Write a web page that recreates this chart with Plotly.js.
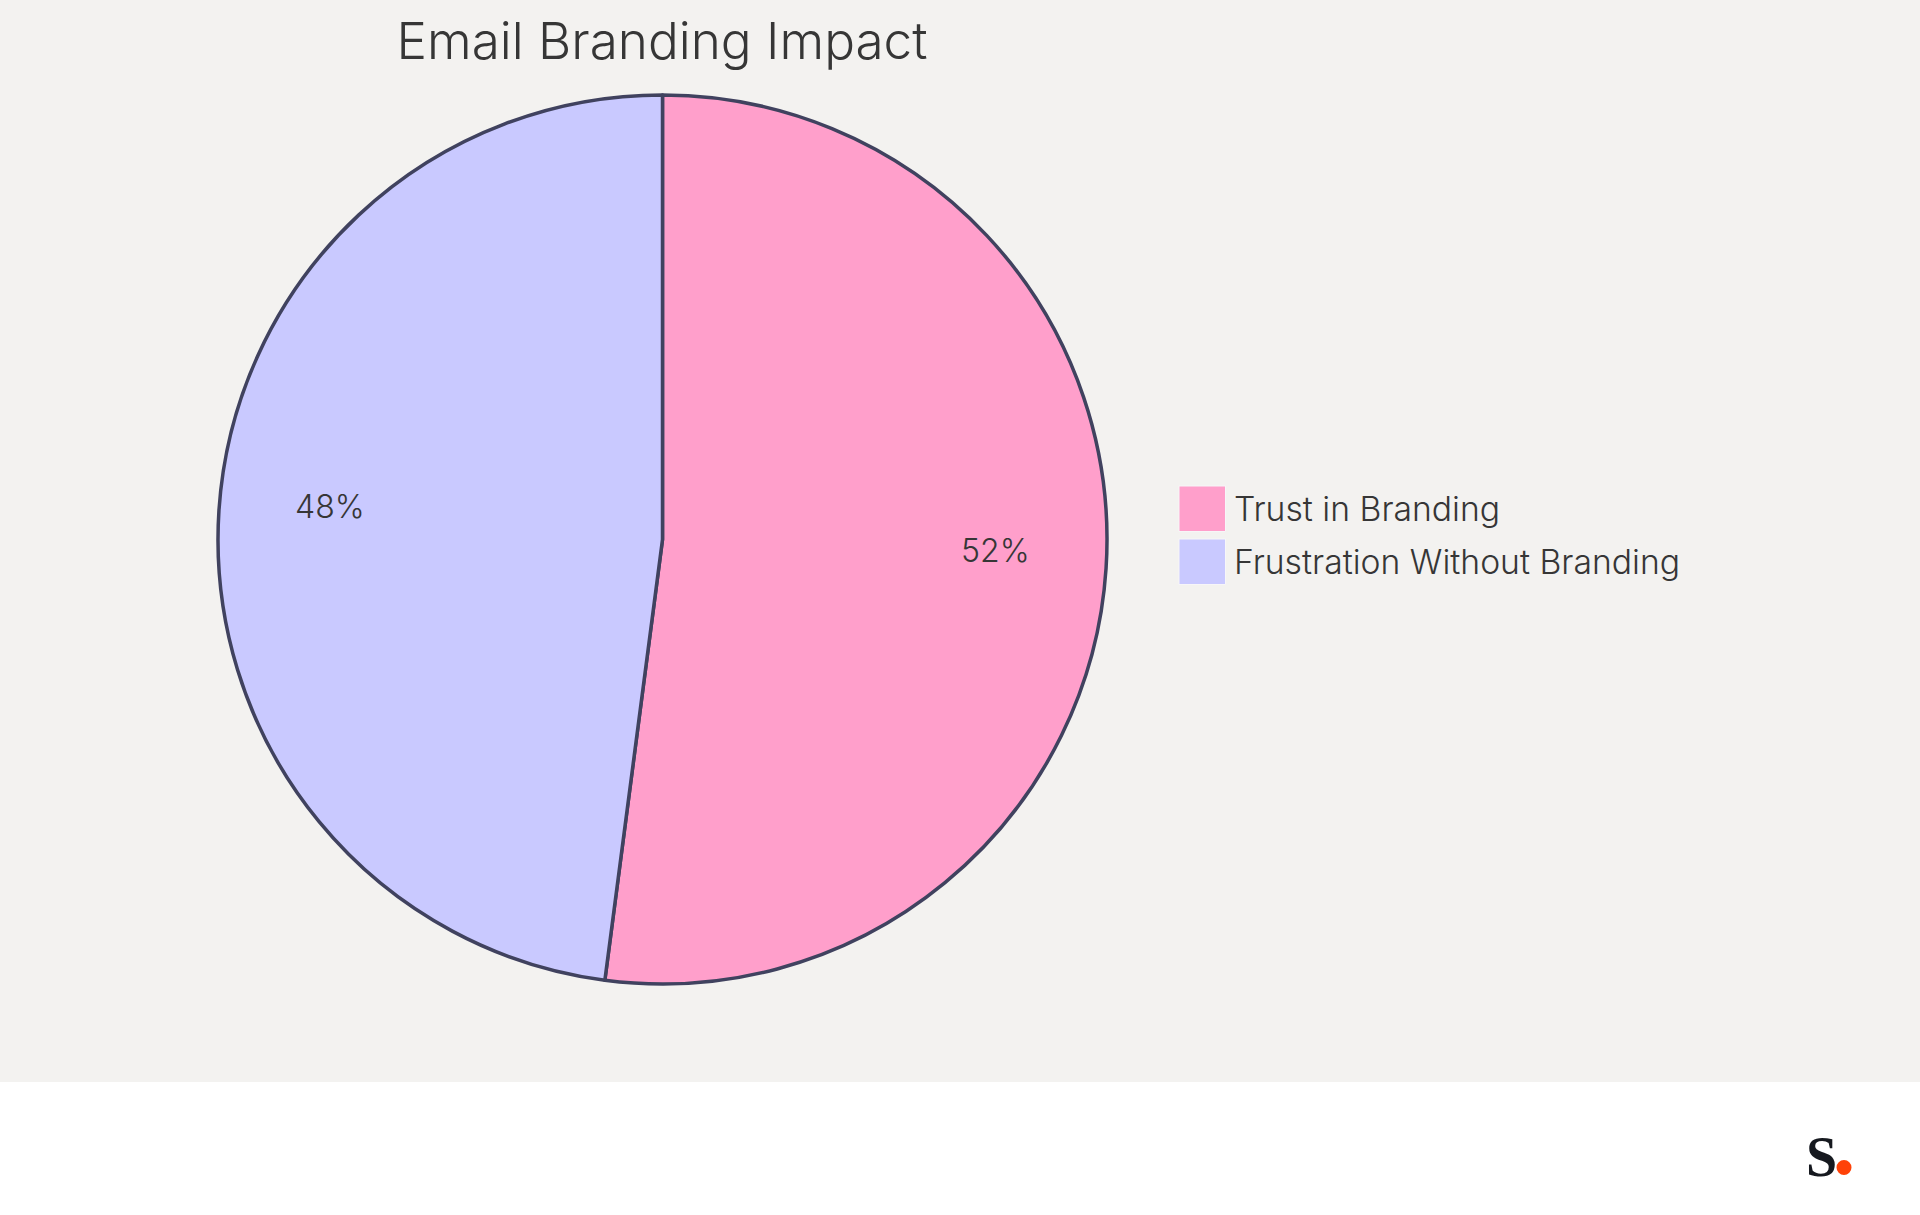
<!DOCTYPE html>
<html>
<head>
<meta charset="utf-8">
<script src="https://cdn.plot.ly/plotly-3.0.1.min.js"></script>
<style>
  html, body { margin: 0; padding: 0; background: #fff; }
</style>
</head>
<body>
<div id="chart" style="width:1920px;height:1215px"></div>
<script>
const categories = ["Trust in Branding", "Frustration Without Branding"];
const shares = [52.07, 47.93];
const sliceColors = ["#ff9fcb", "#c9c9ff"];

const W = 1920, H = 1215;
const fx = px => px / W;
const fy = py => 1 - py / H;
const FONT = "Inter, 'Noto Sans', sans-serif";
const INK = "#363636";

const cx = 662.5, cy = 539.5, r = 444.5;

const trace = {
    type: "pie",
    labels: categories,
    values: shares,
    sort: false,
    direction: "clockwise",
    rotation: 0,
    domain: { x: [fx(cx - r), fx(cx + r)], y: [fy(cy + r), fy(cy - r)] },
    marker: { colors: sliceColors, line: { color: "#40425f", width: 3.5 } },
    textinfo: "none",
    hoverinfo: "label+percent"
};

// legend swatches are bigger than plotly's own pie legend can draw
const rowTop = [486, 539];
const shapes = [
    { type: "rect", xref: "paper", yref: "paper", x0: 0, x1: 1, y0: 0, y1: fy(1082),
      fillcolor: "#ffffff", line: { width: 0 } },
    { type: "circle", xref: "paper", yref: "paper", x0: fx(1836.5), x1: fx(1851.5), y0: fy(1175), y1: fy(1160),
      fillcolor: "#ff4208", line: { width: 0 } }
];
const annotations = [];
categories.forEach((name, i) => {
    shapes.push({ type: "rect", xref: "paper", yref: "paper",
        x0: fx(1179), x1: fx(1225.5), y0: fy(rowTop[i] + 45.5), y1: fy(rowTop[i]),
        fillcolor: sliceColors[i], line: { color: "#f7f6f8", width: 1 } });
    annotations.push({ xref: "paper", yref: "paper", x: fx(1232), y: fy(rowTop[i] + 22.5),
        xanchor: "left", yanchor: "middle", showarrow: false, text: name,
        font: { family: FONT, size: 33.7, color: INK, weight: 300 } });
});

// percent labels sit further out than plotly's inside text, at 3/4 of the radius
const total = shares.reduce((a, b) => a + b, 0);
let start = 0;
shares.forEach(v => {
    const mid = (start + v / 2) / total * 2 * Math.PI;
    start += v;
    annotations.push({ xref: "paper", yref: "paper",
        x: fx(cx + 0.75 * r * Math.sin(mid)), y: fy(cy - 0.75 * r * Math.cos(mid)),
        xanchor: "center", yanchor: "middle", yshift: 11, showarrow: false,
        text: Math.round(v / total * 100) + "%",
        font: { family: FONT, size: 32, color: INK, weight: 300 } });
});

annotations.push({ xref: "paper", yref: "paper", x: fx(1821), y: fy(1157), xanchor: "center", yanchor: "middle",
    showarrow: false, text: "<b>S</b>", font: { family: "'Liberation Serif', serif", size: 56, color: "#16191f" } });

const layout = {
    width: W,
    height: H,
    margin: { t: 0, r: 0, l: 0, b: 0 },
    paper_bgcolor: "#f3f2f0",
    showlegend: false,
    title: {
        text: "Email Branding Impact",
        x: fx(662),
        xanchor: "center",
        y: fy(41),
        yanchor: "middle",
        font: { family: FONT, size: 51.2, color: INK, weight: 300 }
    },
    shapes: shapes,
    annotations: annotations
};

Plotly.newPlot("chart", [trace], layout, { displayModeBar: false });
</script>
</body>
</html>
